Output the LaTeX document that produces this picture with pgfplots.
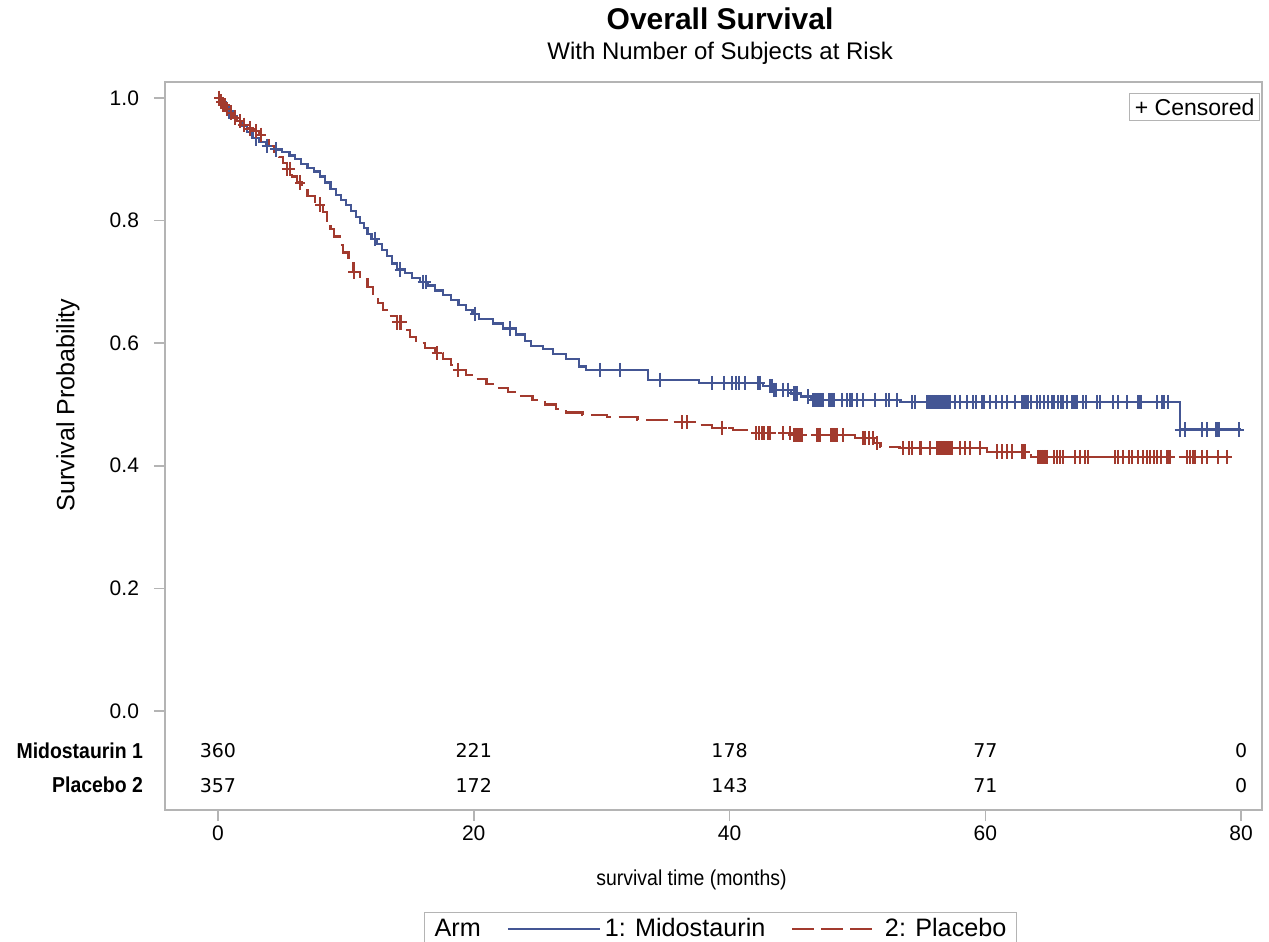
\documentclass[border=0pt]{standalone}
\usepackage{pgfplots}
\pgfplotsset{compat=1.18}
\usepackage{fontspec}
\setmainfont{Liberation Sans}
\newfontfamily\narrowfont{Liberation Sans}[FakeStretch=0.9]
\newfontfamily\riskfont{DejaVu Sans}
\definecolor{cblue}{HTML}{445694}
\definecolor{cred}{HTML}{A23A2E}
\definecolor{fr}{HTML}{B4B4B4}
\pgfplotsset{
  bluelegend/.style={legend image code/.code={\draw[cblue,line width=1pt] (0pt,0pt)--(46pt,0pt);}},
  redlegend/.style={legend image code/.code={\draw[cred,line width=1pt,dash pattern=on 11pt off 3.5pt] (0pt,0pt)--(40pt,0pt); \path (44pt,0pt);}},
}
\begin{document}
\begin{tikzpicture}
\begin{axis}[
  scale only axis, width=548.5pt, height=364pt,
  xmin=-4.14, xmax=81.63, ymin=-0.1615, ymax=1.026,
  axis line style={fr, line width=0.8pt},
  xtick={0,20,40,60,80}, ytick={0,0.2,0.4,0.6,0.8,1.0},
  yticklabel style={/pgf/number format/fixed, /pgf/number format/fixed zerofill, /pgf/number format/precision=1},
  /pgf/number format/assume math mode=true,
  tick align=outside, major tick length=5.5pt,
  tick style={fr, line width=0.8pt},
  xtick pos=bottom, ytick pos=left,
  tick label style={font=\fontsize{10.5}{12}\selectfont},
  xticklabel style={yshift=1pt},
  yticklabel style={xshift=-4pt},
  xlabel={survival time (months)}, ylabel={Survival Probability},
  every axis x label/.style={at={(axis description cs:0.5,0)}, yshift=-35pt, xshift=-11pt, anchor=center, font=\narrowfont\fontsize{10.8}{14}\selectfont},
  every axis y label/.style={at={(axis description cs:0,0.5)}, xshift=-48.5pt, yshift=20.5pt, rotate=90, anchor=center, font=\fontsize{12.5}{14}\selectfont},
  legend style={at={(axis description cs:0.5064,-0.140)}, anchor=north, legend columns=-1, draw=fr, line width=0.6pt, font=\fontsize{12.6}{14}\selectfont, inner ysep=1pt,
    /tikz/every even column/.append style={column sep=11pt}},
  clip=false,
]
\addlegendimage{empty legend}\addlegendentry{Arm\hspace{15pt}}
\addlegendimage{bluelegend}\addlegendentry{1: Midostaurin}
\addlegendimage{redlegend}\addlegendentry{2: Placebo\hspace{2.5pt}}

% Midostaurin KM curve
\addplot[const plot, cblue, line width=1.1pt, forget plot] table {
0 1.000
0.3 0.994
0.6 0.986
0.9 0.978
1.2 0.970
1.5 0.962
1.9 0.954
2.3 0.944
2.7 0.934
3.2 0.928
3.8 0.922
4.4 0.916
5.0 0.912
5.6 0.906
6.0 0.900
6.5 0.892
7.0 0.886
7.5 0.880
8.0 0.872
8.4 0.862
8.8 0.852
9.2 0.842
9.6 0.834
10.0 0.826
10.4 0.816
10.8 0.806
11.1 0.796
11.4 0.788
11.7 0.778
12.0 0.770
12.4 0.762
12.8 0.752
13.2 0.742
13.6 0.730
14.0 0.720
14.6 0.714
15.2 0.706
15.8 0.700
16.4 0.694
17.0 0.686
17.6 0.678
18.2 0.670
18.8 0.662
19.4 0.654
19.9 0.648
20.4 0.640
21.5 0.632
22.3 0.624
23.3 0.614
24.0 0.604
24.5 0.596
25.4 0.590
26.2 0.582
27.2 0.574
28.2 0.562
28.8 0.556
33.6 0.540
37.6 0.535
42.6 0.530
43.4 0.524
44.8 0.518
45.6 0.513
46.4 0.507
53.3 0.504
75.2 0.459
80.0 0.459
};
% Placebo KM curve
\addplot[const plot, cred, line width=1.1pt, dash pattern=on 11pt off 4pt, forget plot] table {
0 1.000
0.2 0.994
0.4 0.988
0.6 0.982
0.9 0.976
1.2 0.968
1.5 0.962
1.8 0.956
2.2 0.950
2.7 0.946
3.2 0.940
3.6 0.932
4.0 0.922
4.4 0.912
4.8 0.904
5.1 0.894
5.4 0.884
5.8 0.872
6.2 0.862
6.6 0.850
7.0 0.840
7.6 0.826
8.2 0.814
8.5 0.800
8.8 0.786
9.1 0.774
9.5 0.760
9.8 0.748
10.2 0.730
10.6 0.716
11.1 0.704
11.7 0.692
12.1 0.680
12.5 0.666
12.9 0.654
13.4 0.644
14.0 0.634
14.6 0.622
15.0 0.610
15.5 0.600
16.2 0.592
17.0 0.584
17.6 0.574
18.2 0.564
18.7 0.556
19.4 0.548
20.2 0.541
21.0 0.534
21.7 0.527
22.7 0.520
23.6 0.514
24.6 0.507
25.6 0.500
26.4 0.492
27.2 0.487
28.5 0.483
30.4 0.479
32.8 0.475
35.3 0.471
37.4 0.466
38.6 0.462
40.3 0.458
41.6 0.453
45.0 0.450
49.8 0.445
51.3 0.437
51.8 0.431
53.3 0.429
60.1 0.423
63.6 0.414
79.4 0.414
};
% Censored marks Midostaurin
\addplot[only marks, mark=+, mark size=3.6pt, cblue, mark options={line width=1pt, xscale=0.7}, forget plot] table {
0.9 0.978
3.0 0.934
3.8 0.922
4.5 0.916
12.3 0.770
14.2 0.720
16.0 0.700
16.3 0.700
20.1 0.648
22.8 0.624
29.9 0.556
31.4 0.556
34.6 0.540
38.6 0.535
39.6 0.535
40.2 0.535
40.5 0.535
40.7 0.535
41.2 0.535
42.2 0.535
42.4 0.535
43.2 0.530
43.3 0.530
43.5 0.524
43.6 0.524
44.2 0.524
44.6 0.524
45.0 0.518
45.15 0.518
45.3 0.518
46.1 0.513
46.5 0.507
46.6 0.507
46.7 0.507
46.8 0.507
46.9 0.507
47.0 0.507
47.1 0.507
47.2 0.507
47.3 0.507
47.8 0.507
47.9 0.507
48.0 0.507
48.1 0.507
48.2 0.507
48.8 0.507
49.2 0.507
49.4 0.507
49.6 0.507
50.0 0.507
50.4 0.507
51.4 0.507
52.2 0.507
52.5 0.507
53.1 0.507
54.3 0.504
54.5 0.504
55.4 0.504
55.55 0.504
55.7 0.504
55.85 0.504
56.0 0.504
56.15 0.504
56.3 0.504
56.45 0.504
56.6 0.504
56.75 0.504
56.9 0.504
57.05 0.504
57.2 0.504
57.6 0.504
58.0 0.504
58.6 0.504
59.0 0.504
59.3 0.504
59.7 0.504
59.9 0.504
60.4 0.504
60.8 0.504
61.3 0.504
61.7 0.504
62.3 0.504
62.9 0.504
63.05 0.504
63.2 0.504
63.3 0.504
63.6 0.504
64.0 0.504
64.3 0.504
64.6 0.504
64.9 0.504
65.2 0.504
65.4 0.504
65.7 0.504
65.9 0.504
66.1 0.504
66.4 0.504
66.8 0.504
66.95 0.504
67.1 0.504
67.2 0.504
67.6 0.504
67.9 0.504
68.7 0.504
69.0 0.504
70.0 0.504
70.4 0.504
71.1 0.504
71.9 0.504
72.0 0.504
72.1 0.504
72.2 0.504
73.4 0.504
73.8 0.504
74.0 0.504
74.3 0.504
75.2 0.459
75.6 0.459
76.9 0.459
77.3 0.459
78.0 0.459
78.1 0.459
78.2 0.459
78.3 0.459
79.8 0.459
};
% Censored marks Placebo
\addplot[only marks, mark=+, mark size=3.6pt, cred, mark options={line width=1pt, xscale=0.7, solid}, forget plot] table {
0.1 1.000
0.25 0.994
0.4 0.988
0.55 0.988
0.7 0.982
1.0 0.976
1.3 0.968
1.7 0.962
2.0 0.956
2.5 0.950
3.0 0.946
3.4 0.940
5.4 0.884
5.6 0.884
6.4 0.862
8.0 0.826
10.6 0.716
14.0 0.634
14.2 0.634
14.35 0.634
17.1 0.584
18.8 0.556
36.3 0.471
36.7 0.471
39.4 0.462
42.1 0.453
42.3 0.453
42.5 0.453
42.7 0.453
43.0 0.453
43.2 0.453
44.2 0.453
44.7 0.453
45.0 0.450
45.1 0.450
45.2 0.450
45.3 0.450
45.4 0.450
45.5 0.450
45.6 0.450
45.7 0.450
46.8 0.450
47.0 0.450
47.1 0.450
47.9 0.450
48.0 0.450
48.1 0.450
48.2 0.450
48.3 0.450
48.4 0.450
48.9 0.450
50.4 0.445
50.6 0.445
50.9 0.445
51.2 0.445
51.5 0.437
53.6 0.429
54.0 0.429
54.3 0.429
54.9 0.429
55.0 0.429
55.7 0.429
56.2 0.429
56.35 0.429
56.5 0.429
56.65 0.429
56.8 0.429
56.95 0.429
57.1 0.429
57.25 0.429
57.4 0.429
58.0 0.429
58.4 0.429
58.8 0.429
59.6 0.429
60.9 0.423
61.3 0.423
61.7 0.423
62.1 0.423
62.9 0.423
63.0 0.423
63.1 0.423
64.1 0.414
64.25 0.414
64.4 0.414
64.55 0.414
64.7 0.414
64.8 0.414
65.4 0.414
65.6 0.414
65.8 0.414
66.1 0.414
67.0 0.414
67.4 0.414
67.8 0.414
68.0 0.414
70.1 0.414
70.4 0.414
70.8 0.414
71.2 0.414
71.5 0.414
71.9 0.414
72.3 0.414
72.6 0.414
72.9 0.414
73.2 0.414
73.4 0.414
73.7 0.414
74.2 0.414
74.3 0.414
74.4 0.414
75.8 0.414
76.0 0.414
76.2 0.414
76.4 0.414
76.9 0.414
77.3 0.414
78.2 0.414
78.9 0.414
};

% number at risk
\node[font=\riskfont\fontsize{9.5}{10}\selectfont] at (axis cs:0,-0.065) {360};
\node[font=\riskfont\fontsize{9.5}{10}\selectfont] at (axis cs:20,-0.065) {221};
\node[font=\riskfont\fontsize{9.5}{10}\selectfont] at (axis cs:40,-0.065) {178};
\node[font=\riskfont\fontsize{9.5}{10}\selectfont] at (axis cs:60,-0.065) {77};
\node[font=\riskfont\fontsize{9.5}{10}\selectfont] at (axis cs:80,-0.065) {0};
\node[font=\riskfont\fontsize{9.5}{10}\selectfont] at (axis cs:0,-0.121) {357};
\node[font=\riskfont\fontsize{9.5}{10}\selectfont] at (axis cs:20,-0.121) {172};
\node[font=\riskfont\fontsize{9.5}{10}\selectfont] at (axis cs:40,-0.121) {143};
\node[font=\riskfont\fontsize{9.5}{10}\selectfont] at (axis cs:60,-0.121) {71};
\node[font=\riskfont\fontsize{9.5}{10}\selectfont] at (axis cs:80,-0.121) {0};
\node[anchor=east, font=\narrowfont\bfseries\fontsize{10.8}{12}\selectfont, xshift=-7.5pt] at (axis cs:-4.14,-0.065) {Midostaurin 1};
\node[anchor=east, font=\narrowfont\bfseries\fontsize{10.8}{12}\selectfont, xshift=-7.5pt] at (axis cs:-4.14,-0.121) {Placebo 2};

% censored legend
\node[anchor=north east, draw=fr, line width=0.6pt, inner sep=2.5pt, font=\fontsize{11.5}{14}\selectfont] at ([xshift=-1pt,yshift=-5.5pt]rel axis cs:1,1) {+ Censored};

% titles
\node[font=\bfseries\fontsize{15}{17}\selectfont] at ([yshift=31.5pt]rel axis cs:0.506,1) {Overall Survival};
\node[font=\fontsize{12}{14}\selectfont] at ([yshift=14.5pt]rel axis cs:0.506,1) {With Number of Subjects at Risk};

\coordinate (bl) at (rel axis cs:0,0);
\end{axis}
\pgfresetboundingbox
\path[use as bounding box] ([shift={(-82.5pt,-66pt)}]bl) rectangle ([shift={(552pt,405pt)}]bl);
\end{tikzpicture}
\end{document}
